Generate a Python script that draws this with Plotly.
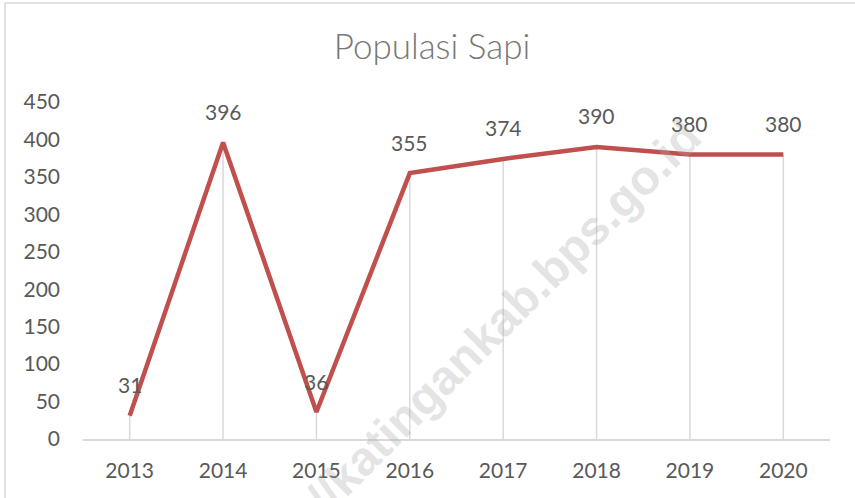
import plotly.graph_objects as go

years = ["2013", "2014", "2015", "2016", "2017", "2018", "2019", "2020"]
populasi = [31, 396, 36, 355, 374, 390, 380, 380]
y_ticks = [0, 50, 100, 150, 200, 250, 300, 350, 400, 450]
title_text = "Populasi Sapi"
watermark = "https://katingankab.bps.go.id"

W, H = 855, 498
L, R, T, B = 83, 25, 102, 59
pw, ph = W - L - R, H - T - B

def px_x(p):
    return (p - L) / pw

def px_y(p):
    return (H - B - p) / ph

fig = go.Figure()

# drop lines
fig.add_trace(go.Scatter(
    x=years, y=populasi, mode="markers",
    marker=dict(size=1, opacity=0),
    error_y=dict(type="data", symmetric=False, array=[0] * len(populasi),
                 arrayminus=populasi, color="#d9d9d9", thickness=1.5, width=0),
    hoverinfo="skip", showlegend=False,
))

fig.add_trace(go.Scatter(
    x=years, y=populasi, mode="lines",
    line=dict(color="#C0504D", width=4.5),
    showlegend=False,
))

for i, v in enumerate(populasi):
    fig.add_annotation(x=i, y=v, text=str(v), showarrow=False,
                       yshift=31, yanchor="middle", xanchor="center",
                       font=dict(family="Lato", size=21, color="#595959"))

# watermark
fig.add_annotation(xref="paper", yref="paper", x=px_x(456), y=px_y(364),
                   text=watermark, showarrow=False, textangle=-45,
                   xanchor="center", yanchor="middle",
                   font=dict(family="Liberation Sans", size=48, color="rgba(170,170,170,0.33)",
                             weight="bold"))

# chart border
fig.add_shape(type="rect", xref="paper", yref="paper",
              x0=px_x(5), x1=px_x(870), y0=px_y(510), y1=px_y(3),
              line=dict(color="#d9d9d9", width=1.5), fillcolor="rgba(0,0,0,0)",
              layer="below")

fig.update_layout(
    width=W, height=H,
    margin=dict(l=L, r=R, t=T, b=B),
    paper_bgcolor="white", plot_bgcolor="white",
    title=dict(text=title_text, x=432 / W, xanchor="center",
               yref="container", y=1 - 47 / H, yanchor="middle",
               font=dict(family="Lato", size=35, color="#777777", weight=300)),
    xaxis=dict(type="category", range=[-0.5, len(years) - 0.5],
               showgrid=False, showline=True, linecolor="#d9d9d9", linewidth=1.5,
               ticks="", ticklabelstandoff=12, zeroline=False,
               tickfont=dict(family="Lato", size=21, color="#595959")),
    yaxis=dict(range=[0, 450], tickvals=y_ticks, showgrid=False, zeroline=False,
               showline=False, ticks="", ticklabelstandoff=22,
               tickfont=dict(family="Lato", size=21, color="#595959")),
)

fig.write_html("out.html", config={"displayModeBar": False},
               post_script="document.body.style.margin='0';")
